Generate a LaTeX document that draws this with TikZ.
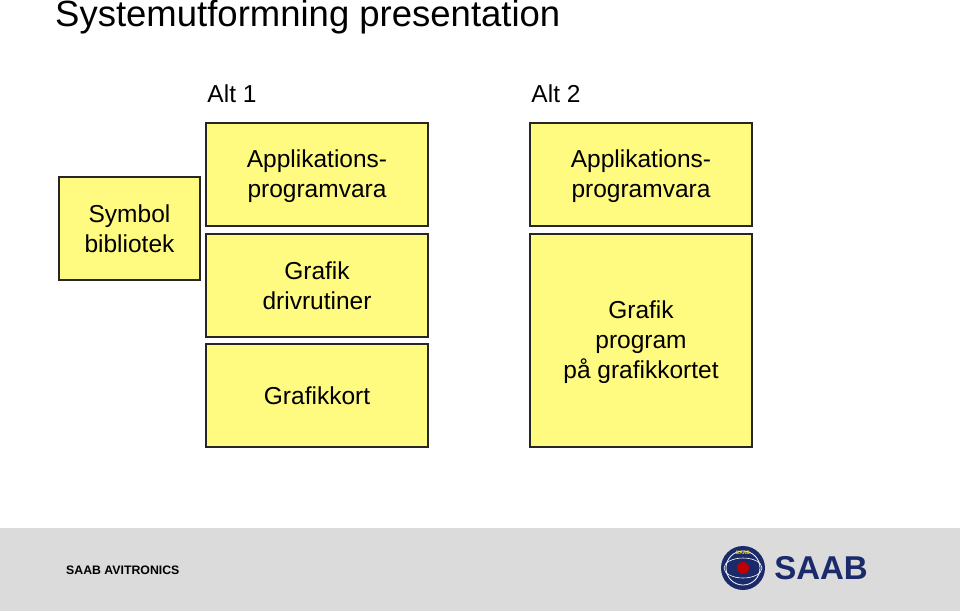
\documentclass[tikz,border=0pt]{standalone}
\usepackage{fontspec}
\setmainfont{Liberation Sans}
\definecolor{boxy}{HTML}{FFFA80}
\definecolor{navy}{HTML}{1A2A6A}
\begin{document}
\begin{tikzpicture}[x=1pt,y=-1pt,
  ybox/.style={draw=black!85,line width=1.3pt,fill=boxy},
  lbl/.style={font=\fontsize{24.5}{30}\selectfont,align=center,inner sep=0pt}]
\useasboundingbox (0,0) rectangle (960,611);
\fill[white] (0,0) rectangle (960,611);
\node[anchor=west,inner sep=0pt,font=\fontsize{36.5}{40}\selectfont] (title) at (55,17) {Systemutformning presentation};
\node[lbl] (alt1) at (232,94) {Alt 1};
\node[lbl] (alt2) at (556,94) {Alt 2};
\draw[ybox] (59,177) rectangle (200,280);
\node[lbl] (sym) at (129.5,229) {Symbol\\bibliotek};
\draw[ybox] (206,123) rectangle (428,226);
\node[lbl] (app1) at (317,176) {Applikations-\\programvara};
\draw[ybox] (206,234) rectangle (428,337);
\node[lbl] (graf1) at (317,286) {Grafik\\drivrutiner};
\draw[ybox] (206,344) rectangle (428,447);
\node[lbl] (kort) at (317,396) {Grafikkort};
\draw[ybox] (530,123) rectangle (752,226);
\node[lbl] (app2) at (641,176) {Applikations-\\programvara};
\draw[ybox] (530,234) rectangle (752,447);
\node[lbl] (graf2) at (641,342) {Grafik\\program\\på grafikkortet};
\fill[black!14] (0,528) rectangle (960,611);
\node[anchor=west,inner sep=0pt,font=\bfseries\fontsize{12.3}{14}\selectfont] (saabav) at (66,570) {SAAB AVITRONICS};
\fill[navy] (743,568) circle (22);
\draw[white,line width=0.8pt] (743,568) circle (17);
\draw[white,line width=0.6pt] (743,568) ellipse (19 and 10);
\fill[red!75!black] (743,568) circle (6);
\node[inner sep=0pt,text=yellow!80!orange,font=\bfseries\fontsize{5}{6}\selectfont] (lsaab) at (743,553) {SAAB};
\node[inner sep=0pt,text=navy,font=\bfseries\fontsize{33}{36}\selectfont] (saab) at (821,568) {SAAB};
\end{tikzpicture}
\end{document}
